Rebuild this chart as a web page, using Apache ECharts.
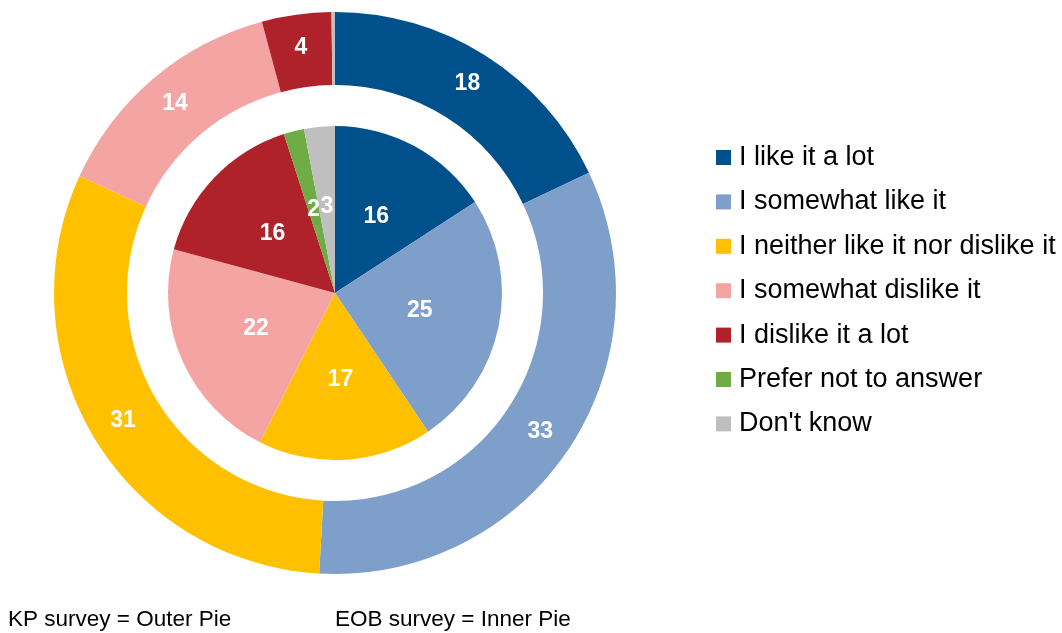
<!DOCTYPE html>
<html><head><meta charset="utf-8">
<script src="https://cdn.jsdelivr.net/npm/echarts@6/dist/echarts.min.js"></script>
<style>html,body{margin:0;padding:0;background:#fff}#c{width:1062px;height:633px}</style>
</head><body><div id="c"></div>
<script>
const categories = ["I like it a lot","I somewhat like it","I neither like it nor dislike it","I somewhat dislike it","I dislike it a lot","Prefer not to answer","Don't know"];
const outerValues = [18, 33, 31, 14, 4, 0, 0.2];   // KP survey
const innerValues = [16, 25, 17, 22, 16, 2, 3];    // EOB survey
const colors = ["#00508C","#7F9FCB","#FFC000","#F4A5A3","#AF2229","#6FAC46","#BFBFBF"];

const FONT = 'Liberation Sans, Arial, sans-serif';
const chart = echarts.init(document.getElementById('c'));
const mk = vals => categories.map((n,i)=>({name:n, value:vals[i]}));
const lbl = {show:true, position:'inside', color:'#fff', fontWeight:'bold', fontSize:23,
  fontFamily:FONT,
  formatter: p => p.value >= 1 ? String(p.value) : ''};
chart.setOption({
  animation:false,
  color: colors,
  legend:{orient:'vertical', left:716, top:144, padding:0, icon:'rect', itemWidth:15, itemHeight:15,
    itemGap:17.4, data:categories,
    textStyle:{fontSize:27, lineHeight:27, color:'#000', fontFamily:FONT, padding:[0,0,0,3]}},
  graphic:[
    {type:'text', left:8, top:608, style:{text:'KP survey = Outer Pie', fontSize:22.5, fill:'#000', fontFamily:FONT}},
    {type:'text', left:335, top:608, style:{text:'EOB survey = Inner Pie', fontSize:22.5, fill:'#000', fontFamily:FONT}}
  ],
  series:[
    {type:'pie', name:'KP survey', center:[335,293], radius:[208,281], startAngle:90, clockwise:true,
      avoidLabelOverlap:false, minShowLabelAngle:0, stillShowZeroSum:true,
      label:lbl, labelLine:{show:false}, emphasis:{disabled:true}, data:mk(outerValues)},
    {type:'pie', name:'EOB survey', center:[335,293], radius:[0,167], startAngle:90, clockwise:true,
      avoidLabelOverlap:false, minShowLabelAngle:0,
      label:lbl, labelLine:{show:false}, emphasis:{disabled:true}, data:mk(innerValues)}
  ]
});
</script></body></html>
